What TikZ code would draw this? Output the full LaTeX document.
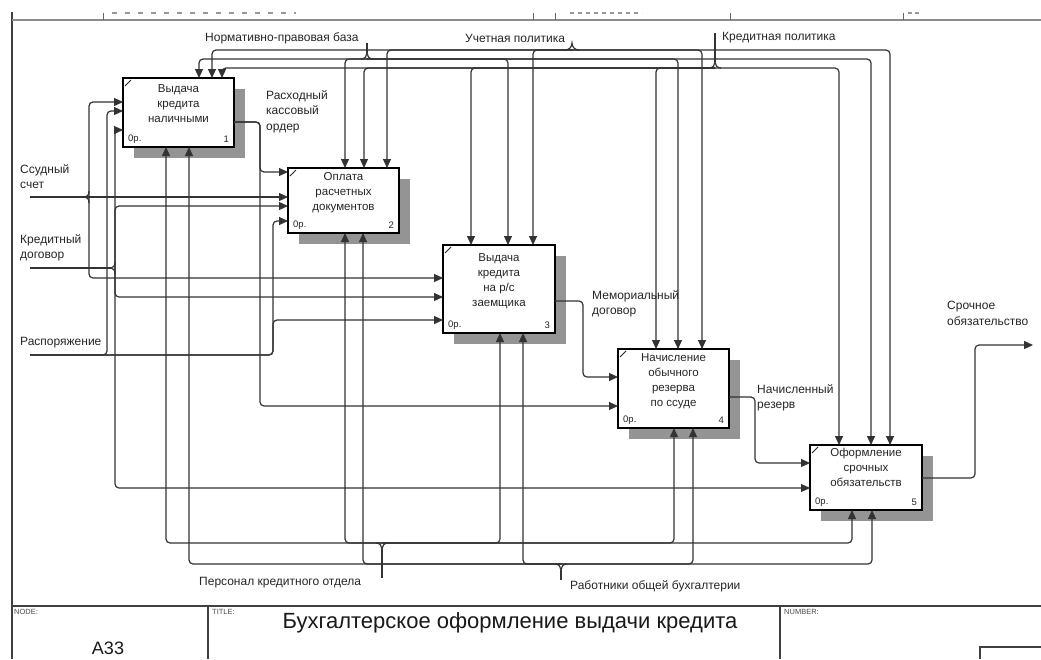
\documentclass[tikz,border=0pt]{standalone}
\usepackage{fontspec}
\setmainfont{Liberation Sans}
\usetikzlibrary{arrows.meta,calc}

% one IDEF0 activity box: name, left, top, width, height, number
\newcommand\idefbox[6]{%
  \fill[boxshade] (#2+11,#3+11) rectangle ++(#4,#5);
  \node[fbox,minimum width=#4pt,minimum height=#5pt] (#1) at (#2,#3) {};
  \draw[line width=0.8pt,black!85] ($(#1.north west)+(2,8)$) -- ($(#1.north west)+(8,2)$);
  \node[tag,anchor=west] (#1c) at ($(#1.south west)+(5,-8)$) {0р.};
  \node[tag,anchor=east] (#1n) at ($(#1.south east)+(-5,-8)$) {#6};
}

\begin{document}
\begin{tikzpicture}[x=1pt,y=-1pt,
  ln/.style={draw=black!80,line width=1.2pt,rounded corners=4pt},
  arr/.style={ln,-{Triangle[length=9pt,width=8pt]}},
  brace/.style={draw=black!80,line width=1.2pt},
  fbox/.style={draw=black,line width=2pt,fill=white,inner sep=0pt,outer sep=0pt,anchor=north west},
  boxshade/.style={fill=black!42},
  btxt/.style={font=\fontsize{11.5}{15}\selectfont,align=center,inner sep=0pt,text=black!85,anchor=north},
  lbl/.style={font=\fontsize{12}{15.5}\selectfont,align=left,inner sep=0pt,text=black!85},
  tag/.style={font=\fontsize{9.5}{10}\selectfont,inner sep=0pt,text=black!85},
  small/.style={font=\fontsize{7.5}{8}\selectfont,inner sep=0pt,text=black!70,anchor=north west},
  frameline/.style={draw=black!75,line width=1.4pt},
  faint/.style={draw=black!40,line width=1.6pt},
]
\useasboundingbox (0,0) rectangle (1041,659);
\fill[white] (0,0) rectangle (1041,659);

% ---------- sheet frame and header ----------
\draw[frameline] (12,12) -- (12,659);
\draw[draw=black!45,line width=2.5pt] (12,20) -- (1041,20);
\foreach \tx in {103,533,555,730,903} \draw[black!60,line width=1pt] (\tx,13) -- (\tx,20);
\draw[faint,dash pattern=on 5pt off 8pt] (112,13) -- (296,13);
\draw[faint,dash pattern=on 4pt off 4pt] (570,13) -- (642,13);
\draw[faint,dash pattern=on 4pt off 3pt] (908,13) -- (920,13);

% ---------- title block ----------
\draw[frameline] (12,606) -- (1041,606);
\draw[frameline] (208,606) -- (208,659);
\draw[frameline] (780,606) -- (780,659);
\draw[frameline] (980,659) -- (980,647) -- (1041,647);
\node[small] (nodehead) at (14,609) {NODE:};
\node[small] (titlehead) at (212,609) {TITLE:};
\node[small] (numhead) at (784,609) {NUMBER:};
\node[font=\fontsize{18}{20}\selectfont,inner sep=0pt,text=black!90] (nodeno) at (108,648) {A33};
\node[font=\fontsize{22}{24}\selectfont,inner sep=0pt,text=black!90] (title) at (510,623) {Бухгалтерское оформление выдачи кредита};

% ---------- activity boxes ----------
\idefbox{b1}{123}{78}{111}{69}{1}
\idefbox{b2}{288}{168}{111}{65}{2}
\idefbox{b3}{443}{245}{112}{88}{3}
\idefbox{b4}{618}{349}{111}{79}{4}
\idefbox{b5}{810}{445}{112}{65}{5}

\node[btxt] (b1t) at ($(b1.north)+(0,6)$) {Выдача\\кредита\\наличными};
\node[btxt] (b2t) at ($(b2.north)+(0,4)$) {Оплата\\расчетных\\документов};
\node[btxt] (b3t) at ($(b3.north)+(0,8)$) {Выдача\\кредита\\на р/с\\заемщика};
\node[btxt] (b4t) at ($(b4.north)+(0,4)$) {Начисление\\обычного\\резерва\\по ссуде};
\node[btxt] (b5t) at ($(b5.north)+(0,3)$) {Оформление\\срочных\\обязательств};

% ---------- controls ----------
\node[lbl,anchor=west] (cnorm) at (205,38) {Нормативно-правовая база};
\node[lbl,anchor=west] (cacc) at (465,38) {Учетная политика};
\node[lbl,anchor=west] (ccred) at (722,38) {Кредитная политика};
\coordinate (jA) at (572,50);
\coordinate (jB) at (367,59);
\coordinate (jC) at (715,68);
\draw[brace] (565,50) .. controls (569,50) and (572,47) .. (572,43) .. controls (572,47) and (575,50) .. (579,50);
\draw[brace] (367,43) -- (367,53);
\draw[brace] (361,59) .. controls (365,59) and (367,56) .. (367,53) .. controls (367,56) and (369,59) .. (373,59);
\draw[brace] (715,33) -- (715,62);
\draw[brace] (709,68) .. controls (713,68) and (715,65) .. (715,62) .. controls (715,65) and (717,68) .. (721,68);

\draw[arr] (jA) -- (212,50) -- (b1.north -| 212,0);
\draw[arr] (jA) -- (387,50) -- (b2.north -| 387,0);
\draw[arr] (jA) -- (533,50) -- (b3.north -| 533,0);
\draw[arr] (jA) -- (702,50) -- (b4.north -| 702,0);
\draw[arr] (jA) -- (890,50) -- (b5.north -| 890,0);

\draw[arr] (jB) -- (199,59) -- (b1.north -| 199,0);
\draw[arr] (jB) -- (345,59) -- (b2.north -| 345,0);
\draw[arr] (jB) -- (508,59) -- (b3.north -| 508,0);
\draw[arr] (jB) -- (678,59) -- (b4.north -| 678,0);
\draw[arr] (jB) -- (871,59) -- (b5.north -| 871,0);

\draw[arr] (jC) -- (222,68) -- (b1.north -| 222,0);
\draw[arr] (jC) -- (364,68) -- (b2.north -| 364,0);
\draw[arr] (jC) -- (471,68) -- (b3.north -| 471,0);
\draw[arr] (jC) -- (656,68) -- (b4.north -| 656,0);
\draw[arr] (jC) -- (839,68) -- (b5.north -| 839,0);

% ---------- mechanisms ----------
\node[lbl,anchor=west] (mcred) at (199,583) {Персонал кредитного отдела};
\node[lbl,anchor=west] (macc) at (570,586) {Работники общей бухгалтерии};
\coordinate (jM) at (382,543);
\coordinate (jN) at (561,564);
\draw[brace] (376,543) .. controls (380,543) and (382,546) .. (382,549) .. controls (382,546) and (384,543) .. (388,543);
\draw[brace] (382,549) -- (382,578);
\draw[brace] (555,564) .. controls (559,564) and (561,567) .. (561,570) .. controls (561,567) and (563,564) .. (567,564);
\draw[brace] (561,570) -- (561,580);

\draw[arr] (jM) -- (166,543) -- (b1.south -| 166,0);
\draw[arr] (jM) -- (345,543) -- (b2.south -| 345,0);
\draw[arr] (jM) -- (500,543) -- (b3.south -| 500,0);
\draw[arr] (jM) -- (674,543) -- (b4.south -| 674,0);
\draw[arr] (jM) -- (852,543) -- (b5.south -| 852,0);

\draw[arr] (jN) -- (189,564) -- (b1.south -| 189,0);
\draw[arr] (jN) -- (363,564) -- (b2.south -| 363,0);
\draw[arr] (jN) -- (523,564) -- (b3.south -| 523,0);
\draw[arr] (jN) -- (693,564) -- (b4.south -| 693,0);
\draw[arr] (jN) -- (872,564) -- (b5.south -| 872,0);

% ---------- inputs ----------
\node[lbl,anchor=north west] (iloan) at (20,164) {Ссудный\\счет};
\node[lbl,anchor=north west] (icontr) at (20,234) {Кредитный\\договор};
\node[lbl,anchor=west] (iorder) at (20,343) {Распоряжение};
\coordinate (s1) at (30,197);
\coordinate (s2) at (30,268);
\coordinate (s3) at (30,355);
\coordinate (j1) at (89,197);
\coordinate (j2) at (115,268);

% loan account
\draw[brace] (89,191) .. controls (89,195) and (87,197) .. (85,197) .. controls (87,197) and (89,199) .. (89,203);
\draw[arr] (s1) -- (b2.west |- 0,197);
\draw[arr] (j1) -- (89,102) -- (b1.west |- 0,102);
\draw[arr] (j1) -- (89,278) -- (b3.west |- 0,278);

% credit agreement
\draw[ln] (s2) -- (111,268);
\draw[brace] (115,262) .. controls (115,266) and (113,268) .. (111,268) .. controls (113,268) and (115,270) .. (115,274);
\draw[arr] (j2) -- (115,130) -- (b1.west |- 0,130);
\draw[arr] (j2) -- (115,206) -- (b2.west |- 0,206);
\draw[arr] (j2) -- (115,297) -- (b3.west |- 0,297);
\draw[arr] (j2) -- (115,488) -- (b5.west |- 0,488);

% order
\draw[arr] (s3) -- (107,355) -- (107,111) -- (b1.west |- 0,111);
\draw[arr] (s3) -- (273,355) -- (273,221) -- (b2.west |- 0,221);
\draw[arr] (s3) -- (273,355) -- (273,320) -- (b3.west |- 0,320);

% ---------- outputs ----------
\node[lbl,anchor=north west] (ocash) at (266,90) {Расходный\\кассовый\\ордер};
\node[lbl,anchor=north west] (omemo) at (592,290) {Мемориальный\\договор};
\node[lbl,anchor=north west] (ores) at (757,384) {Начисленный\\резерв};
\node[lbl,anchor=north west] (oobl) at (947,301) {Срочное\\обязательство};
\coordinate (o5) at (1033,345);

\draw[arr] (b1.east |- 0,122) -- (260,122) -- (260,172) -- (b2.west |- 0,172);
\draw[arr] (b1.east |- 0,122) -- (260,122) -- (260,406) -- (b4.west |- 0,406);
\draw[arr] (b3.east |- 0,301) -- (583,301) -- (583,377) -- (b4.west |- 0,377);
\draw[arr] (b4.east |- 0,397) -- (755,397) -- (755,463) -- (b5.west |- 0,463);
\draw[arr] (b5.east |- 0,478) -- (975,478) -- (975,345) -- (o5);

\end{tikzpicture}
\end{document}
